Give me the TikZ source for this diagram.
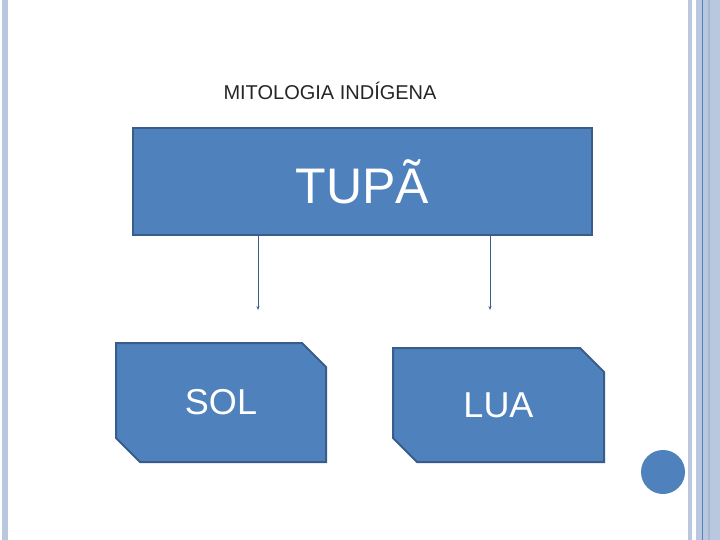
\documentclass[tikz,border=0pt]{standalone}
\usepackage{fontspec}
\setmainfont{Liberation Sans}
\usetikzlibrary{shapes.misc,arrows.meta}
\definecolor{fillb}{HTML}{4F81BD}
\definecolor{edgeb}{HTML}{385D8A}
\definecolor{lightb}{HTML}{B9C7DF}
\begin{document}
\begin{tikzpicture}[x=1pt,y=-1pt,
  box/.style={draw=edgeb,line width=2pt,fill=fillb,text=white,inner sep=0pt,outer sep=0pt},
  cbox/.style={box,chamfered rectangle,chamfered rectangle corners={north east,south west},chamfered rectangle xsep=12pt,chamfered rectangle ysep=12pt,minimum width=208pt,minimum height=116pt},
  arr/.style={draw=edgeb,line width=0.8pt,-{Stealth[length=4pt,width=3pt]}}]
\useasboundingbox (0,0) rectangle (720,540);
\fill[white] (0,0) rectangle (720,540);
% borders
\fill[lightb] (2,0) rectangle (8,540);
\fill[lightb] (688,0) rectangle (692,540);
\fill[lightb] (696,0) rectangle (720,540);
\fill[lightb!85!edgeb] (708,0) rectangle (710,540);
\draw[fillb,line width=0.8pt] (702,0) -- (702,540);
\node[font=\fontsize{20}{24}\selectfont,text=black!85] (title) at (330,91) {MITOLOGIA INDÍGENA};
\node[box,minimum width=459pt,minimum height=107pt,font=\fontsize{50}{60}\selectfont] (tupa) at (362.5,181.5) {TUPÃ};
\node[cbox,minimum width=210pt,minimum height=119pt,font=\fontsize{36}{43}\selectfont] (sol) at (221,402.5) {\raisebox{0pt}{SOL}\hspace*{0pt}};
\node[cbox,minimum width=211pt,minimum height=114pt,font=\fontsize{36}{43}\selectfont] (lua) at (498.5,405) {LUA};
\coordinate (a1) at (258,310);
\coordinate (a2) at (490,310);
\draw[arr] (tupa.south -| a1) -- (a1);
\draw[arr] (tupa.south -| a2) -- (a2);
\fill[fillb] (663,472) circle (22) node (dot) {};
\end{tikzpicture}
\end{document}
